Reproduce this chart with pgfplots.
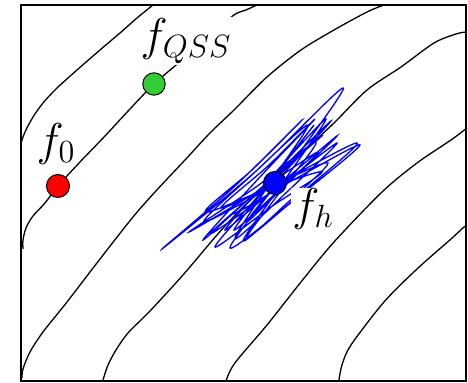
\documentclass[border=0pt]{standalone}
\usepackage{fix-cm}
\usepackage{pgfplots}
\pgfplotsset{compat=1.18}
\definecolor{myred}{RGB}{255,0,0}
\definecolor{mygreen}{RGB}{50,205,50}
\definecolor{myblue}{RGB}{0,0,255}
\begin{document}
\begin{tikzpicture}
\begin{axis}[scale only axis, width=222.5pt, height=188pt,
  xmin=21, xmax=466, ymin=5, ymax=381, y dir=reverse,
  ticks=none, clip=false, axis line style={line width=1pt}]
\path (axis cs:0,0) rectangle (axis cs:468,383);
% contour-like curves
\addplot[black, line width=0.65pt, smooth] coordinates {(21,143) (25,132) (33,117) (43,103) (57,88) (77,70) (100,50) (120,33) (137,18) (153,5)};
\addplot[black, line width=0.65pt, smooth] coordinates {(23,249) (23,240) (26,228) (33,216) (45,203) (58,186) (80,162) (105,136) (130,109) (154,84) (182,60) (208,37) (234,15) (246,10) (257,5)};
\addplot[black, line width=0.65pt, smooth] coordinates {(22,378) (23,369) (30,352) (43,332) (67,302) (100,259) (133,217) (155,192) (185,160) (210,133) (234,110) (267,77) (301,50) (334,30) (367,12) (384,5)};
\addplot[black, line width=0.65pt, smooth] coordinates {(103,380) (108,365) (116,350) (128,333) (150,311) (183,275) (217,235) (245,205) (277,177) (305,150) (334,123) (367,90) (401,67) (434,43) (456,34) (466,32)};
\addplot[black, line width=0.65pt, smooth] coordinates {(226,381) (230,371) (238,359) (267,325) (301,282) (334,242) (382,192) (417,163) (451,140) (467,128)};
\addplot[black, line width=0.65pt, smooth] coordinates {(339,380) (342,365) (351,345) (384,302) (417,269) (451,239) (464,227) (466,226)};
% scribble
\addplot[myblue, line width=0.65pt, smooth, tension=0.55] coordinates {
(270,188) (331,121) (272,178) (210,234) (273,191) (337,143) (288,191) (235,239)
(270,183) (308,125) (254,173) (204,222) (279,183) (357,143) (305,190) (247,238)
(280,192) (316,142) (256,187) (189,232) (255,193) (318,152) (275,194) (234,230)
(275,176) (314,125) (264,189) (215,247) (271,207) (322,172) (265,190) (205,212)
(253,169) (302,120) (235,186) (162,249) (255,172) (343,88) (287,170) (230,248)
(298,197) (360,145) (295,179) (233,214) (278,174) (323,135) (262,187) (203,240)
(260,177) (315,119) (269,165) (221,208) (274,185) (328,163) (285,205) (243,241)
(284,181) (326,119) (274,174) (225,230) (280,184) (337,136) (290,181) (247,222)
(271,190)};
% points
\addplot[only marks, mark=*, mark size=5.75pt, mark options={fill=myred, draw=black, line width=0.5pt}] coordinates {(58,186)};
\addplot[only marks, mark=*, mark size=5.6pt, mark options={fill=mygreen, draw=black, line width=0.5pt}] coordinates {(154,84)};
\addplot[only marks, mark=*, mark size=5.75pt, mark options={fill=myblue, draw=black, line width=0.5pt}] coordinates {(275,183)};
% labels
\node[fill=white, inner sep=0.5pt, font=\fontsize{23}{27}\selectfont] at (axis cs:56,144) {$f_0$};
\node[fill=white, inner sep=0.5pt, font=\fontsize{23}{27}\selectfont] at (axis cs:186,41) {$f_{QSS}$};
\node[fill=white, inner sep=0.5pt, font=\fontsize{23}{27}\selectfont] at (axis cs:313,209) {$f_h$};
\end{axis}
\end{tikzpicture}
\end{document}
